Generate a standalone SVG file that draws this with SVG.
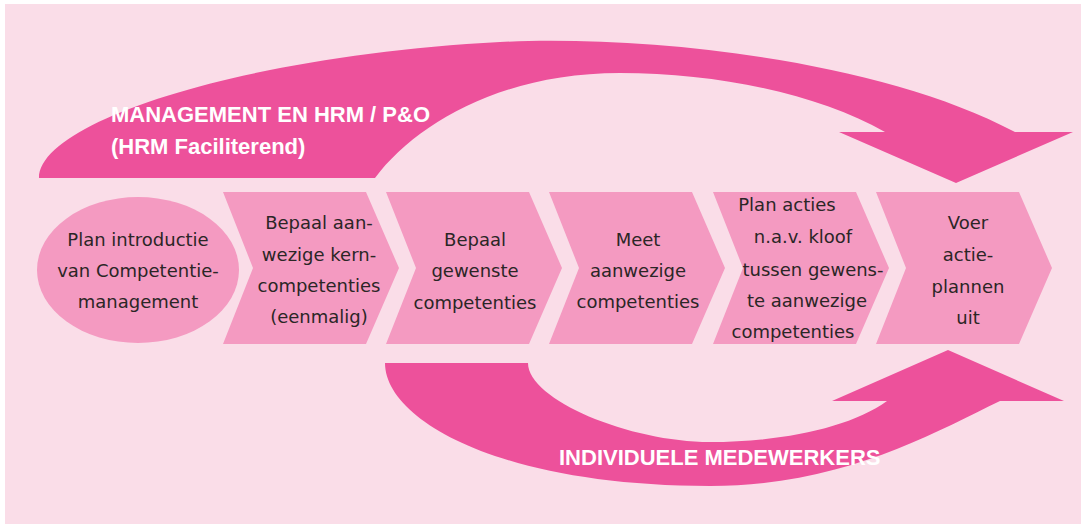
<svg xmlns="http://www.w3.org/2000/svg" xmlns:xlink="http://www.w3.org/1999/xlink" width="1081" height="524" viewBox="0 0 1081 524">
  <style>
    .band { fill: #ED519B; }
    .step { fill: #F49AC1; }
    .lbl { font-family: "DejaVu Sans", "Liberation Sans", sans-serif; font-size: 18px; fill: #2B2626; text-anchor: middle; }
    .flow { font-family: "Liberation Sans", Arial, sans-serif; font-weight: bold; font-size: 22px; fill: #FFFFFF; }
  </style>
  <defs>
    <polygon id="chevron" points="0,192 143,192 176,268 143,344 0,344 30,268"/>
  </defs>

  <!-- page -->
  <rect x="0" y="0" width="1081" height="524" fill="#FFFFFF"/>
  <rect x="5" y="4" width="1076" height="520" fill="#FADDE8"/>

  <!-- connectors: the two curved flow arrows -->
  <g id="connectors">
    <g id="flow-management">
      <path class="band" d="M39,178 C39,120 250,55 500,42 C650,35 880,60 1015,132 H1073 L956,183 L839,132 H885 C820,95 720,73 620,73 C500,73 415,125 375,178 Z"/>
      <text class="flow" x="111" y="122">MANAGEMENT EN HRM / P&amp;O</text>
      <text class="flow" x="111" y="154">(HRM Faciliterend)</text>
    </g>
    <g id="flow-medewerkers">
      <path class="band" d="M385,363 H528 C528,400 630,442 710,442 C780,442 850,428 887,401 H832 L948,350 L1064,401 H1000 C930,435 840,486 710,486 C500,486 385,420 385,363 Z"/>
      <text class="flow" x="559" y="465">INDIVIDUELE MEDEWERKERS</text>
    </g>
  </g>

  <!-- process steps -->
  <g id="step-introductie">
    <ellipse class="step" cx="138" cy="270" rx="101" ry="73"/>
    <text class="lbl" x="138" y="246">Plan introductie</text>
    <text class="lbl" x="138" y="277">van Competentie-</text>
    <text class="lbl" x="138" y="308">management</text>
  </g>

  <g id="step-kerncompetenties">
    <use xlink:href="#chevron" class="step" x="223"/>
    <text class="lbl" x="319" y="229">Bepaal aan-</text>
    <text class="lbl" x="319" y="261">wezige kern-</text>
    <text class="lbl" x="319" y="292">competenties</text>
    <text class="lbl" x="319" y="323">(eenmalig)</text>
  </g>

  <g id="step-gewenst">
    <use xlink:href="#chevron" class="step" x="386"/>
    <text class="lbl" x="475" y="246">Bepaal</text>
    <text class="lbl" x="475" y="277">gewenste</text>
    <text class="lbl" x="475" y="309">competenties</text>
  </g>

  <g id="step-meten">
    <use xlink:href="#chevron" class="step" x="549"/>
    <text class="lbl" x="638" y="246">Meet</text>
    <text class="lbl" x="638" y="277">aanwezige</text>
    <text class="lbl" x="638" y="308">competenties</text>
  </g>

  <g id="step-actieplan">
    <use xlink:href="#chevron" class="step" x="713"/>
    <text class="lbl" x="787" y="211">Plan acties</text>
    <text class="lbl" x="803" y="243">n.a.v. kloof</text>
    <text class="lbl" x="813" y="276">tussen gewens-</text>
    <text class="lbl" x="807" y="307">te aanwezige</text>
    <text class="lbl" x="793" y="338">competenties</text>
  </g>

  <g id="step-uitvoeren">
    <use xlink:href="#chevron" class="step" x="876"/>
    <text class="lbl" x="968" y="229">Voer</text>
    <text class="lbl" x="968" y="261">actie-</text>
    <text class="lbl" x="968" y="293">plannen</text>
    <text class="lbl" x="968" y="324">uit</text>
  </g>
</svg>
